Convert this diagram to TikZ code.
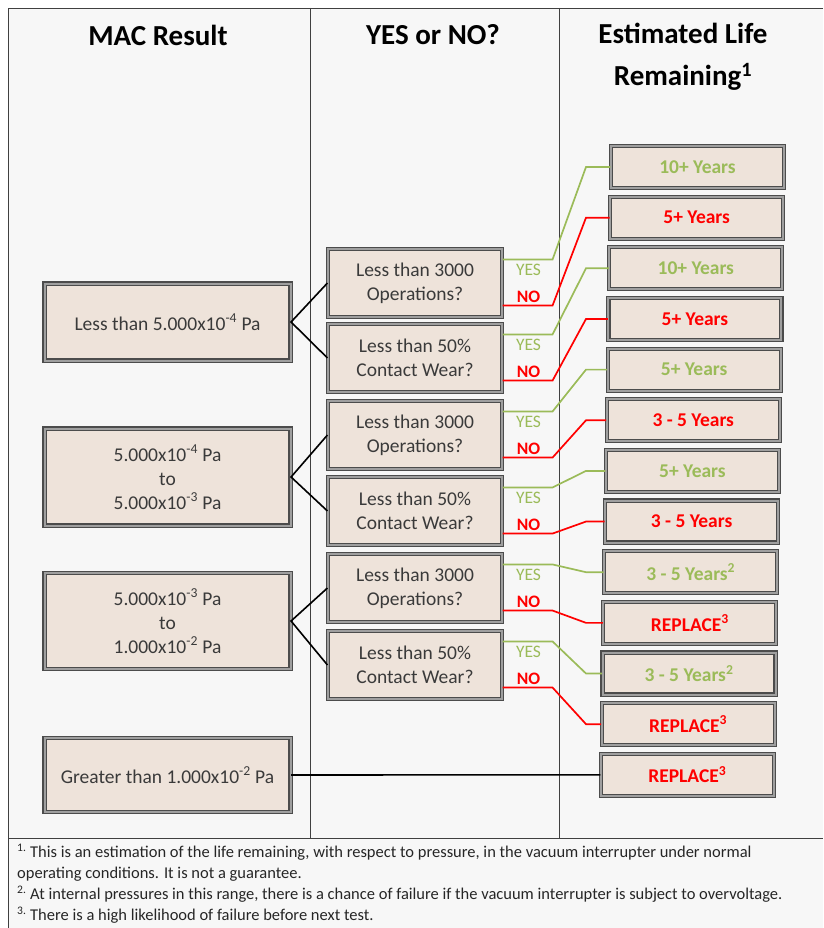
\documentclass[tikz,border=0pt]{standalone}
\usepackage{fontspec}
\setmainfont{Carlito}
\usepackage{xcolor}
\usetikzlibrary{positioning}
\definecolor{boxfill}{HTML}{EEE3DA}
\definecolor{panelbg}{HTML}{F7F7F7}
\definecolor{yesgreen}{HTML}{9BBB59}
\definecolor{nored}{HTML}{FF0000}
\definecolor{boxtext}{HTML}{3A3A3A}

\begin{document}
\begin{tikzpicture}[x=1pt, y=-1pt,
    cellbox/.style={draw=black!70, double=gray!75, double distance=2pt, line width=1.1pt,
        fill=boxfill, align=center, inner sep=0pt, text=boxtext},
    macbox/.style={cellbox, minimum width=246pt, font=\fontsize{19.5}{24}\selectfont},
    askbox/.style={cellbox, minimum width=174pt, minimum height=68pt, font=\fontsize{19.5}{24}\selectfont},
    lifebox/.style={cellbox, minimum width=173pt, minimum height=42pt, font=\fontsize{19.5}{22}\selectfont\bfseries},
    headtext/.style={font=\fontsize{29}{42}\selectfont\bfseries, align=center},
    yeslabel/.style={text=yesgreen, font=\fontsize{17.5}{18}\selectfont},
    nolabel/.style={text=nored, font=\fontsize{17.5}{18}\selectfont\bfseries},
    yesline/.style={draw=yesgreen, line width=1.7pt},
    noline/.style={draw=nored, line width=1.7pt},
    treeline/.style={draw=black, line width=1.6pt}]

% page and table frame
\useasboundingbox (0,0) rectangle (823,928);
\fill[white] (0,0) rectangle (823,928);
\fill[panelbg] (8,8) rectangle (823,928);
\draw[black!75, line width=0.8pt] (823,8) -- (8,8) -- (8,928);
\draw[black!75, line width=0.8pt] (8,838) -- (823,838);
\draw[black!75, line width=0.8pt] (310,8) -- (310,838);
\draw[black!75, line width=0.8pt] (559,8) -- (559,838);

% headers
\node[headtext] (hmac) at (158,35) {MAC Result};
\node[headtext] (hyes) at (433,35) {YES or NO?};
\node[headtext] (hlife) at (683,57) {Estimated Life\\Remaining\textsuperscript{1}};

% MAC result boxes
\node[macbox, minimum height=77pt] (m1) at (167.5,322) {Less than 5.000x10\textsuperscript{-4} Pa};
\node[macbox, minimum height=97pt] (m2) at (167.5,477) {5.000x10\textsuperscript{-4} Pa\\to\\5.000x10\textsuperscript{-3} Pa};
\node[macbox, minimum height=96pt] (m3) at (167.5,621) {5.000x10\textsuperscript{-3} Pa\\to\\1.000x10\textsuperscript{-2} Pa};
\node[macbox, minimum height=74pt] (m4) at (167.5,775) {Greater than 1.000x10\textsuperscript{-2} Pa};

% questions
\node[askbox] (q1) at (415,283) {Less than 3000\\Operations?};
\node[askbox] (q2) at (415,358) {Less than 50\%\\Contact Wear?};
\node[askbox] (q3) at (415,435) {Less than 3000\\Operations?};
\node[askbox] (q4) at (415,511) {Less than 50\%\\Contact Wear?};
\node[askbox] (q5) at (415,588) {Less than 3000\\Operations?};
\node[askbox] (q6) at (415,665) {Less than 50\%\\Contact Wear?};

% life remaining boxes
\foreach \txt/\col [count=\i from 0] in {10+ Years/yesgreen, 5+ Years/nored, 10+ Years/yesgreen,
    5+ Years/nored, 5+ Years/yesgreen, 3 - 5 Years/nored, 5+ Years/yesgreen, 3 - 5 Years/nored,
    3 - 5 Years\textsuperscript{2}/yesgreen, REPLACE\textsuperscript{3}/nored,
    3 - 5 Years\textsuperscript{2}/yesgreen, REPLACE\textsuperscript{3}/nored, REPLACE\textsuperscript{3}/nored}
{
    \pgfmathtruncatemacro{\n}{\i+1}
    \node[lifebox, text=\col] (r\n) at ({697.5-0.85*\i},{167+50.65*\i}) {\txt};
}

% YES / NO labels
\foreach \k in {1,...,6}
{
    \node[yeslabel] (y\k) at ([xshift=26pt, yshift=13pt]q\k.east) {YES};
    \node[nolabel] (n\k) at ([xshift=26pt, yshift=-14pt]q\k.east) {NO};
}

% tree lines
\draw[treeline] (q1.west) -- (m1.east) -- (q2.west);
\draw[treeline] (q3.west) -- (m2.east) -- (q4.west);
\draw[treeline] (q5.west) -- (m3.east) -- (q6.west);
\draw[treeline] (m4.east) -- (r13.west);

% answers to life remaining
\coordinate (bend) at (586,0);
\foreach \k/\a/\b in {1/1/2, 2/3/4, 3/5/6, 4/7/8, 5/9/10, 6/11/12}
{
    \draw[yesline] ([yshift=-11pt]q\k.north east) -- ++(50,0) -- (bend |- r\a.west) -- (r\a.west);
    \draw[noline] ([yshift=12pt]q\k.south east) -- ++(50,0) -- (bend |- r\b.west) -- (r\b.west);
}

% footnotes
\node[anchor=north west, align=left, inner sep=0pt, text=black!85,
    font=\fontsize{16.5}{21}\selectfont] (notes) at (17,844)
    {\textsuperscript{1.} This is an estimation of the life remaining, with respect to pressure, in the vacuum interrupter under normal\\
    operating conditions. It is not a guarantee.\\
    \textsuperscript{2.} At internal pressures in this range, there is a chance of failure if the vacuum interrupter is subject to overvoltage.\\
    \textsuperscript{3.} There is a high likelihood of failure before next test.};
\end{tikzpicture}
\end{document}
